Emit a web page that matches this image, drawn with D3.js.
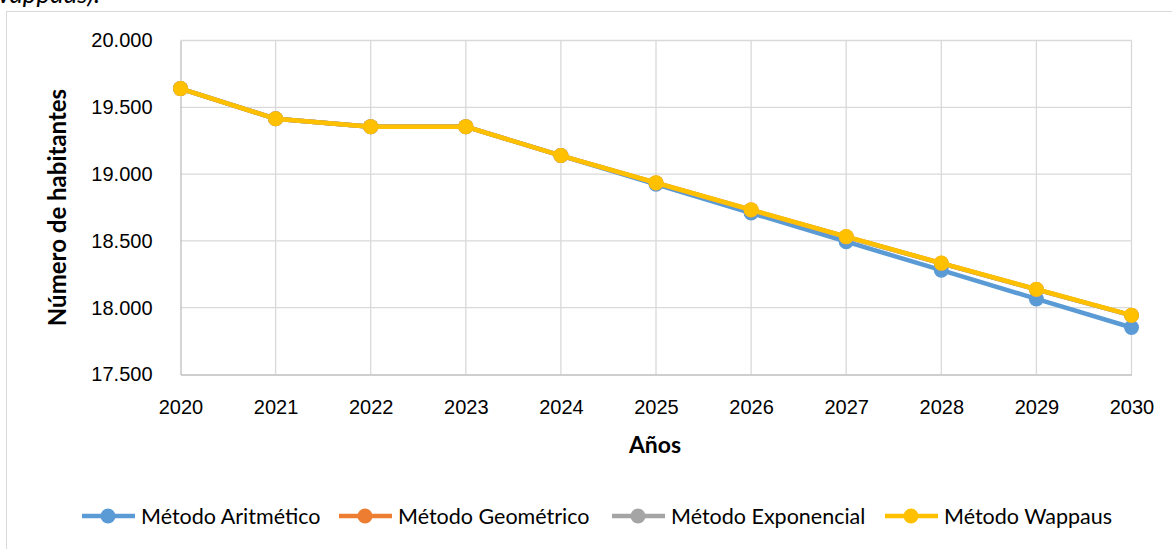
<!DOCTYPE html>
<html>
<head>
<meta charset="utf-8">
<script src="https://cdn.jsdelivr.net/npm/d3@7"></script>
<style>
  body { margin: 0; background: #fff; }
  svg { display: block; font-family: Lato, "Open Sans", sans-serif; }
</style>
</head>
<body>
<div id="chart"></div>
<script>
// data
const years = [2020, 2021, 2022, 2023, 2024, 2025, 2026, 2027, 2028, 2029, 2030];
const aritmetico  = [19640, 19414, 19355, 19355, 19139, 18924, 18709, 18494, 18281, 18066, 17852];
const geometrico  = [19640, 19414, 19355, 19355, 19139, 18934, 18732, 18531, 18333, 18137, 17943];
const exponencial = [19640, 19414, 19355, 19355, 19139, 18934, 18731, 18530, 18332, 18136, 17942];
const wappaus     = [19640, 19414, 19355, 19355, 19139, 18935, 18733, 18532, 18334, 18138, 17944];
const yTicks = [17500, 18000, 18500, 19000, 19500, 20000];
const seriesNames = ["Método Aritmético", "Método Geométrico", "Método Exponencial", "Método Wappaus"];
const colors = ["#5B9BD5", "#ED7D31", "#A5A5A5", "#FFC000"];
const allSeries = [aritmetico, geometrico, exponencial, wappaus];

const W = 1172, H = 549;
const svg = d3.select("#chart").append("svg").attr("width", W).attr("height", H);

// caption from the page above, cut at the top edge
svg.append("text").attr("x", 100).attr("y", 3).attr("text-anchor", "end")
   .style("font-style", "italic").style("font-size", "26px")
   .text("(Wappaus).");

// outer frame
svg.append("rect").attr("x", 6.5).attr("y", 11.5).attr("width", 1180).attr("height", 560)
   .attr("fill", "none").attr("stroke", "#d9d9d9");

const x = d3.scaleLinear().domain([2020, 2030]).range([180.5, 1131.5]);
const y = d3.scaleLinear().domain([17500, 20000]).range([374.5, 40.5]);

// gridlines
svg.append("g").selectAll("line").data(yTicks.slice(1)).enter().append("line")
   .attr("x1", x(2020)).attr("x2", x(2030))
   .attr("y1", d => y(d)).attr("y2", d => y(d))
   .attr("stroke", "#d9d9d9").attr("stroke-width", 1.3);
svg.append("g").selectAll("line").data(years.slice(1)).enter().append("line")
   .attr("x1", d => x(d)).attr("x2", d => x(d))
   .attr("y1", y(17500)).attr("y2", y(20000))
   .attr("stroke", "#d9d9d9").attr("stroke-width", 1.3);

// axes
svg.append("g").attr("transform", `translate(${x(2020)},0)`).call(
   d3.axisLeft(y).tickValues(yTicks).tickSize(0).tickPadding(28)
     .tickFormat(d => d3.format(",")(d).replace(",", "."))
).call(g => {
   g.select(".domain").attr("stroke", "#bfbfbf").attr("stroke-width", 1.3);
   g.selectAll("text").style("font-size", "20px").attr("fill", "#000");
});
svg.append("g").attr("transform", `translate(0,${y(17500)})`).call(
   d3.axisBottom(x).tickValues(years).tickSize(0).tickPadding(25).tickFormat(d3.format("d"))
).call(g => {
   g.select(".domain").attr("stroke", "#bfbfbf").attr("stroke-width", 1.3);
   g.selectAll("text").style("font-size", "20px").attr("fill", "#000");
});

// axis titles
svg.append("text").attr("x", 655).attr("y", 453)
   .attr("text-anchor", "middle").style("font-size", "23px").style("font-weight", "bold")
   .text("Años");
svg.append("text").attr("transform", `translate(66,${(y(17500) + y(20000)) / 2}) rotate(-90)`)
   .attr("text-anchor", "middle").style("font-size", "24px").style("font-weight", "bold")
   .text("Número de habitantes");

// series
const line = d3.line().x((d, i) => x(years[i])).y(d => y(d));
allSeries.forEach((s, k) => {
   const g = svg.append("g");
   g.append("path").datum(s).attr("d", line)
    .attr("fill", "none").attr("stroke", colors[k]).attr("stroke-width", 4.5)
    .attr("stroke-linejoin", "round");
   g.selectAll("circle").data(s).enter().append("circle")
    .attr("cx", (d, i) => x(years[i])).attr("cy", d => y(d)).attr("r", 7.5)
    .attr("fill", colors[k]);
});

// legend
const legendX = [82, 339, 612, 885];
const leg = svg.append("g").attr("transform", "translate(0,516)");
seriesNames.forEach((name, k) => {
   const g = leg.append("g").attr("transform", `translate(${legendX[k]},0)`);
   g.append("line").attr("x1", 0).attr("x2", 53).attr("y1", 0).attr("y2", 0)
    .attr("stroke", colors[k]).attr("stroke-width", 4.5);
   g.append("circle").attr("cx", 26).attr("cy", 0).attr("r", 7.5).attr("fill", colors[k]);
   g.append("text").attr("x", 59).attr("y", 7.5).style("font-size", "21.5px").text(name);
});
</script>
</body>
</html>
